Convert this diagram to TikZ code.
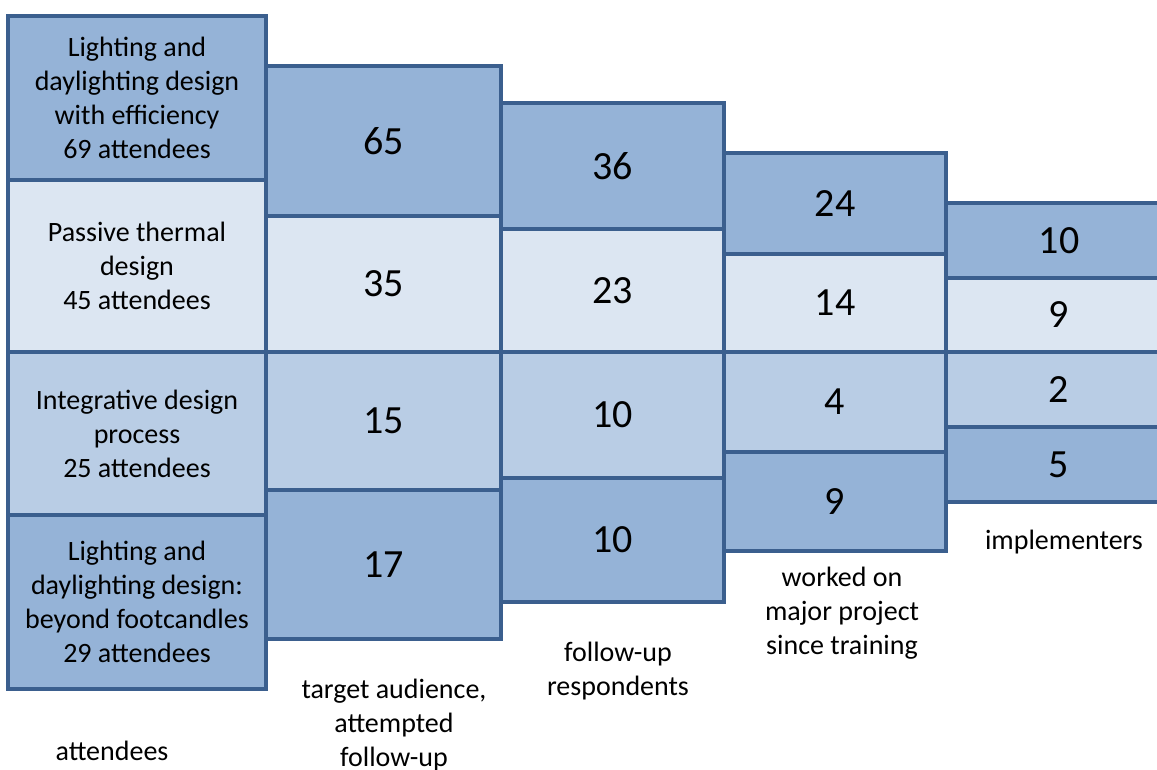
\documentclass[tikz,border=0pt]{standalone}
\usepackage{fontspec}
\setmainfont{Carlito}
\definecolor{bardark}{HTML}{95B3D7}
\definecolor{barlight}{HTML}{DCE6F2}
\definecolor{barmid}{HTML}{B9CDE5}
\definecolor{baredge}{HTML}{3B5F8E}

\begin{document}
\begin{tikzpicture}[x=0.75pt,y=-0.75pt,
    cell/.style={draw=baredge,line width=3pt,inner sep=0pt,align=center},
    stagelabel/.style={align=center,font=\fontsize{21}{25.5}\selectfont}]
  \useasboundingbox (0,0) rectangle (1157,770);
  \clip (0,0) rectangle (1157,770);
  % one box per course and stage: column/left/right/top/bottom/fill/text
  \foreach \c/\xl/\xr/\top/\bot/\f/\t [count=\n] in {
      1/8/266/15/179/bardark/{Lighting and\\daylighting design\\with efficiency\\69 attendees},
      1/8/266/179/351/barlight/{Passive thermal\\design\\45 attendees},
      1/8/266/351/514/barmid/{Integrative design\\process\\25 attendees},
      1/8/266/514/688/bardark/{Lighting and\\daylighting design:\\beyond footcandles\\29 attendees},
      2/266/501/65/215/bardark/65, 2/266/501/215/351/barlight/35,
      2/266/501/351/489/barmid/15, 2/266/501/489/638/bardark/17,
      3/501/724/102/228/bardark/36, 3/501/724/228/351/barlight/23,
      3/501/724/351/477/barmid/10, 3/501/724/477/601/bardark/10,
      4/724/946/152/253/bardark/24, 4/724/946/253/351/barlight/14,
      4/724/946/351/451/barmid/4, 4/724/946/451/550/bardark/9,
      5/946/1172/202/277/bardark/10, 5/946/1172/277/351/barlight/9,
      5/946/1172/351/426/barmid/2, 5/946/1172/426/501/bardark/5} {
    \ifnum\c=1
      \def\sz{\fontsize{21}{25.5}\selectfont}
    \else
      \def\sz{\fontsize{30}{36}\selectfont}
    \fi
    \node[cell,fill=\f,font=\sz,minimum width={(\xr-\xl)*0.75pt},
          minimum height={(\bot-\top)*0.75pt}]
      (B\n) at ({(\xl+\xr)/2},{(\top+\bot)/2+1}) {\t};
  }
  % stage captions under the columns
  \node[stagelabel] (attendees) at (112,751) {attendees};
  \node[stagelabel] (target) at (394,725) {target audience,\\attempted\\follow-up};
  \node[stagelabel] (respond) at (618,671) {follow-up\\respondents};
  \node[stagelabel] (project) at (842,613) {worked on\\major project\\since training};
  \node[stagelabel] (implement) at (1064,542) {implementers};
\end{tikzpicture}
\end{document}
